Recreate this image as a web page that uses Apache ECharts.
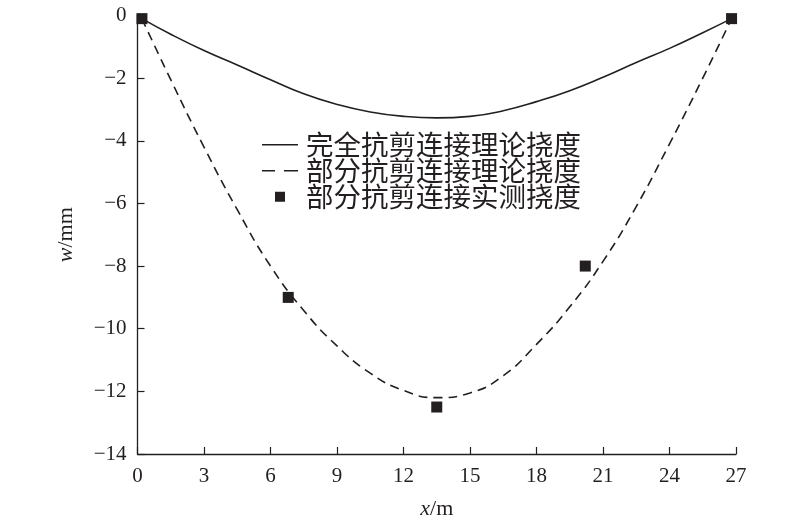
<!DOCTYPE html>
<html>
<head>
<meta charset="utf-8">
<script src="https://cdn.jsdelivr.net/npm/echarts@6/dist/echarts.min.js"></script>
<style>html,body{margin:0;padding:0;background:#fff}#c{width:800px;height:525px}</style>
</head>
<body>
<div id="c"></div>
<script>
const xFull = [0.2, 1.5, 3, 4.5, 6, 7.5, 9, 10.5, 12, 13.5, 15, 16.5, 18, 19.5, 21, 22.5, 24, 25.5, 26.8];
const yFull = [-0.1, -0.6, -1.12, -1.58, -2.05, -2.5, -2.84, -3.08, -3.22, -3.27, -3.22, -3.04, -2.75, -2.4, -1.97, -1.5, -1.05, -0.55, -0.1];
const xPart = [0.2, 1.5, 3, 4.5, 6, 7.5, 9, 10.5, 12, 13.5, 15, 16.5, 18, 19.5, 21, 22.5, 24, 25.5, 26.8];
const yPart = [-0.1, -2.05, -4.2, -6.2, -8.0, -9.42, -10.55, -11.42, -11.97, -12.2, -12.05, -11.5, -10.5, -9.3, -7.85, -6.1, -4.1, -2.0, -0.1];
const xMeas = [0.2, 6.8, 13.5, 20.2, 26.8];
const yMeas = [-0.1, -9.0, -12.5, -8.0, -0.1];
const seriesNames = ['完全抗剪连接理论挠度', '部分抗剪连接理论挠度', '部分抗剪连接实测挠度'];
const xAxisName = 'x';
const yAxisName = 'w';

const ink = '#231f20';
const zip = (a, b) => a.map((v, i) => [v, b[i]]);
const fmt = v => (v < 0 ? '\u2212' + Math.abs(v) : String(v));
const numFont = "'Liberation Serif', 'DejaVu Serif', serif";

const chart = echarts.init(document.getElementById('c'));
chart.setOption({
  animation: false,
  backgroundColor: '#fff',
  grid: { left: 137.5, right: 64, top: 15.5, bottom: 68.3, containLabel: false },
  legend: {
    orient: 'vertical',
    left: 262,
    top: 131,
    padding: 0,
    itemGap: -1.5,
    itemWidth: 36,
    itemHeight: 10,
    textStyle: { fontSize: 27.5, lineHeight: 26, color: ink, fontFamily: "'Noto Sans CJK SC', sans-serif", padding: [0, 0, 0, 3] },
    data: [
      { name: seriesNames[0], icon: 'path://M0,0h36v1.6h-36z', itemStyle: { color: ink } },
      { name: seriesNames[1], icon: 'path://M0,0h13v1.6h-13z M22,0h14v1.6h-14z', itemStyle: { color: ink } },
      { name: seriesNames[2], icon: 'path://M0,0h10v10h-10z', itemStyle: { color: ink } }
    ]
  },
  xAxis: {
    type: 'value', min: 0, max: 27, interval: 3,
    position: 'bottom',
    name: '{i|' + xAxisName + '}/m',
    nameLocation: 'middle', nameGap: 44,
    nameTextStyle: { fontSize: 22, color: ink, fontFamily: numFont, rich: { i: { fontStyle: 'italic', fontSize: 22, color: ink, fontFamily: numFont } } },
    axisLine: { onZero: false, lineStyle: { color: ink, width: 1.3 } },
    axisTick: { inside: true, length: 7, lineStyle: { color: ink, width: 1.2 } },
    axisLabel: { fontSize: 21, color: ink, fontFamily: numFont, margin: 12, formatter: fmt },
    splitLine: { show: false }
  },
  yAxis: {
    type: 'value', min: -14, max: 0, interval: 2,
    name: '{i|' + yAxisName + '}/mm',
    nameLocation: 'middle', nameGap: 60,
    nameTextStyle: { fontSize: 22, color: ink, fontFamily: numFont, rich: { i: { fontStyle: 'italic', fontSize: 22, color: ink, fontFamily: numFont } } },
    axisLine: { show: true, onZero: false, lineStyle: { color: ink, width: 1.3 } },
    axisTick: { show: true, inside: true, length: 7, lineStyle: { color: ink, width: 1.2 } },
    axisLabel: { fontSize: 21, color: ink, fontFamily: numFont, margin: 11, formatter: fmt },
    splitLine: { show: false }
  },
  series: [
    {
      name: seriesNames[0], type: 'line', data: zip(xFull, yFull),
      smooth: 0.5, symbol: 'none',
      lineStyle: { color: ink, width: 1.6 }, itemStyle: { color: ink }
    },
    {
      name: seriesNames[1], type: 'line', data: zip(xPart, yPart),
      smooth: 0.5, symbol: 'none',
      lineStyle: { color: ink, width: 1.6, type: [9, 6] }, itemStyle: { color: ink }
    },
    {
      name: seriesNames[2], type: 'scatter', data: zip(xMeas, yMeas),
      symbol: 'rect', symbolSize: 11, clip: false,
      itemStyle: { color: ink, opacity: 1 }, z: 5
    }
  ]
});
</script>
</body>
</html>
